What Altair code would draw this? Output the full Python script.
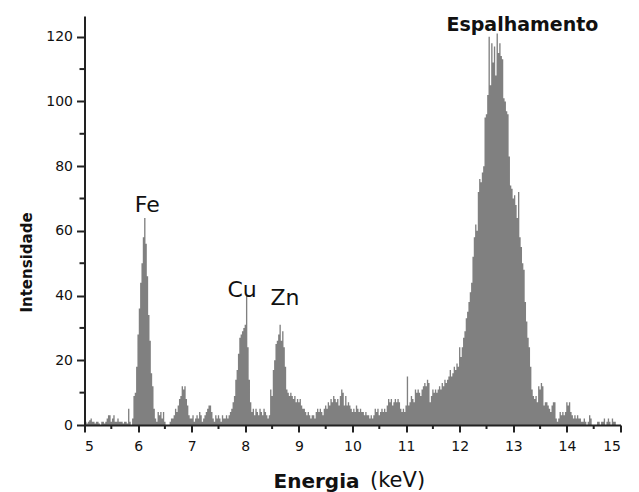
import altair as alt
import pandas as pd

# Spectrum: intensity per 0.025 keV channel, from 5.000 keV to 15.000 keV
E_START = 5.0
E_STEP = 0.025

seg_5 = [1, 1, 0.5, 1, 1.5, 2, 1, 1, 0.5, 1,
         1, 0.5, 0, 1, 1, 0.5, 1, 2, 3, 3,
         1, 2, 3, 1, 1, 2, 1, 1, 1, 0.5,
         1, 1, 0.5, 5, 1, 0, 2, 9, 10, 18]
seg_6 = [28, 36, 44, 50, 58, 64, 56, 46, 34, 26,
         16, 12, 5, 2, 1, 4, 3, 4, 2, 4,
         1, 0, 0, 0, 1, 2, 2, 3, 5, 4,
         6, 8, 9, 12, 11, 12, 8, 6, 3, 2]
seg_7 = [2, 3, 1, 2, 3, 2, 4, 3, 1, 2,
         3, 4, 5, 6, 6, 4, 2, 1, 3, 2,
         3, 2, 1, 3, 2, 2, 3, 2, 3, 4,
         5, 7, 9, 14, 17, 22, 27, 28, 29, 30]
seg_8 = [31, 40, 24, 14, 7, 4, 5, 3, 5, 4,
         3, 5, 4, 3, 5, 4, 3, 2, 3, 11,
         9, 17, 20, 25, 26, 28, 31, 26, 29, 24,
         18, 11, 10, 9, 10, 9, 8, 9, 7, 8]
seg_9 = [7, 8, 6, 5, 5, 4, 3, 4, 3, 2,
         3, 3, 2, 4, 5, 4, 5, 4, 3, 5,
         6, 5, 7, 6, 8, 7, 9, 8, 7, 8,
         6, 9, 11, 10, 6, 9, 6, 7, 6, 5]
seg_10 = [4, 5, 4, 6, 5, 4, 5, 4, 4, 3,
          4, 3, 3, 2, 3, 2, 3, 5, 4, 5,
          3, 4, 5, 4, 5, 4, 6, 8, 7, 8,
          6, 7, 8, 7, 8, 7, 5, 4, 5, 4]
seg_11 = [6, 15, 6, 7, 9, 8, 7, 11, 10, 11,
          10, 9, 11, 12, 13, 12, 14, 13, 7, 9,
          11, 10, 11, 10, 11, 12, 11, 13, 12, 14,
          13, 14, 15, 17, 15, 16, 18, 17, 19, 18]
seg_12 = [24, 21, 24, 27, 29, 33, 35, 38, 41, 44,
          52, 58, 62, 60, 72, 76, 75, 78, 80, 95,
          96, 102, 120, 105, 118, 112, 117, 108, 121, 115,
          118, 114, 113, 101, 100, 97, 96, 83, 74, 73]
seg_13 = [70, 71, 68, 64, 72, 58, 55, 50, 48, 38,
          32, 27, 24, 18, 11, 9, 8, 9, 7, 12,
          11, 13, 12, 6, 7, 7, 6, 5, 4, 6,
          7, 7, 2, 1, 2, 4, 3, 4, 3, 4]
seg_14 = [7, 6, 7, 4, 3, 2, 3, 2, 3, 2,
          2, 1, 1, 2, 1, 0, 1, 3, 2, 0,
          0, 0, 0, 1, 1, 0, 1, 1, 2, 0,
          1, 2, 1, 0, 2, 1, 1, 0, 0, 0,
          0]

intensity = seg_5 + seg_6 + seg_7 + seg_8 + seg_9 + seg_10 + seg_11 + seg_12 + seg_13 + seg_14
energy = [round(E_START + i * E_STEP, 3) for i in range(len(intensity))]

x_major = [5, 6, 7, 8, 9, 10, 11, 12, 13, 14, 15]
x_minor = [5.5, 6.5, 7.5, 8.5, 9.5, 10.5, 11.5, 12.5, 13.5, 14.5]
y_major = [0, 20, 40, 60, 80, 100, 120]
y_minor = [10, 30, 50, 70, 90, 110]

peak_names = ["Fe", "Cu", "Zn"]
peak_x = [6.17, 7.94, 8.74]
peak_y = [65.8, 39.6, 37.0]
scatter_name = ["Espalhamento"]
scatter_x = [13.17]
scatter_y = [121.8]

FONT = "DejaVu Sans"
W, H = 536, 409

spec = pd.DataFrame({"energia": energy, "intensidade": intensity})
peaks = pd.DataFrame({"energia": peak_x, "intensidade": peak_y, "t": peak_names})
scat = pd.DataFrame({"energia": scatter_x, "intensidade": scatter_y, "t": scatter_name})

xscale = alt.Scale(domain=[5, 15], nice=False, zero=False)
yscale = alt.Scale(domain=[0, 126.4], nice=False)

xaxis = alt.Axis(values=x_major, format="d", title="Energia",
                 titleX=188.5, titleY=62, titleAlign="left",
                 titleBaseline="alphabetic", titleFont=FONT,
                 titleFontSize=20, titleFontWeight="bold",
                 titleColor="#111", tickSize=7, labelPadding=7, zindex=1)
yaxis = alt.Axis(values=y_major, format="d", title="Intensidade",
                 titleX=-53.5, titleY=246, titleAngle=270,
                 titleAlign="center", titleBaseline="alphabetic",
                 titleFont=FONT, titleFontSize=15,
                 titleFontWeight="bold", titleColor="#111",
                 tickSize=8, labelPadding=4, zindex=1)

X = alt.X("energia:Q", scale=xscale, axis=xaxis)
Y = alt.Y("intensidade:Q", scale=yscale, axis=yaxis)

area = alt.Chart(spec).mark_area(interpolate="step", color="#808080", opacity=1).encode(
    x=X, y=Y,
)

yminor = alt.Chart(pd.DataFrame({"intensidade": y_minor})).mark_rule(
    color="#222", strokeWidth=2).encode(
    y=Y, x=alt.value(-5), x2=alt.value(0),
)
xminor = alt.Chart(pd.DataFrame({"energia": x_minor})).mark_rule(
    color="#222", strokeWidth=2).encode(
    x=X, y=alt.value(H), y2=alt.value(H + 4),
)

peak_text = alt.Chart(peaks).mark_text(font=FONT, fontSize=22, color="#111",
                                       align="center", baseline="alphabetic").encode(
    x=X, y=Y, text="t:N",
)
scat_text = alt.Chart(scat).mark_text(font=FONT, fontSize=19, fontWeight="bold", color="#111",
                                      align="center", baseline="alphabetic").encode(
    x=X, y=Y, text="t:N",
)
kev = alt.Chart(pd.DataFrame({"t": ["(keV)"]})).mark_text(
    font=FONT, fontSize=21, color="#111", align="left", baseline="alphabetic").encode(
    x=alt.value(285.5), y=alt.value(H + 62), text="t:N",
)

chart = alt.layer(area, yminor, xminor, peak_text, scat_text, kev).properties(
    width=W, height=H,
    autosize=alt.AutoSizeParams(type="none"),
    padding={"left": 76.5, "top": 8, "right": 10.5, "bottom": 67},
    background="white",
).configure_view(stroke=None).configure_axis(
    grid=False, domainColor="#222", domainWidth=2, tickColor="#222", tickWidth=2,
    labelFont=FONT, labelFontSize=14, labelColor="#111",
)

chart.save("out.html", embed_options={"renderer": "svg", "actions": False})
